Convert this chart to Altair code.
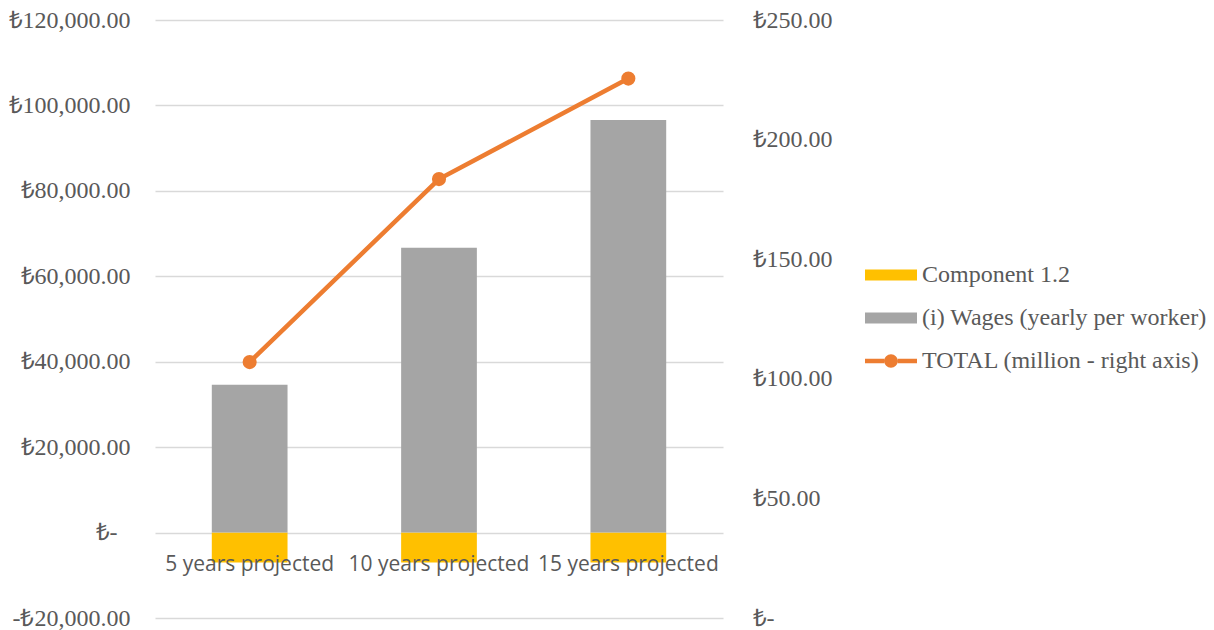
import altair as alt
import pandas as pd

categories = ["5 years projected", "10 years projected", "15 years projected"]
component = [-7000, -7000, -7000]
wages = [34600, 66700, 96600]
total = [107.0, 183.5, 225.5]

series_names = ["Component 1.2", "(i) Wages (yearly per worker)", "TOTAL (million - right axis)"]
series_colors = ["#FFC000", "#A5A5A5", "#ED7D31"]
left_ticks = [-20000, 0, 20000, 40000, 60000, 80000, 100000, 120000]
right_ticks = [0, 50, 100, 150, 200, 250]

bar_df = pd.DataFrame(
    [{"category": c, "series": series_names[0], "value": v} for c, v in zip(categories, component)]
    + [{"category": c, "series": series_names[1], "value": v} for c, v in zip(categories, wages)]
)
line_df = pd.DataFrame({"category": categories, "series": series_names[2], "value": total})
label_df = pd.DataFrame({"category": categories})

x_scale = alt.Scale(domain=categories, paddingInner=0.6, paddingOuter=0.3)
color_scale = alt.Scale(domain=series_names, range=series_colors)

# legend symbol paths (unit = sqrt(symbolSize)/2 px)
rect_path = "M-1,-1.1H9.4V1.1H-1Z"
line_path = (
    "M-1,-0.45H2.85V0.45H-1Z M5.55,-0.45H9.4V0.45H5.55Z "
    "M2.85,0A1.35,1.35 0 1,0 5.55,0A1.35,1.35 0 1,0 2.85,0Z"
)
shape_scale = alt.Scale(domain=series_names, range=[rect_path, rect_path, line_path])

legend = alt.Legend(
    title=None,
    orient="none",
    legendX=703,
    legendY=243,
    labelFont="Liberation Serif",
    labelFontSize=24,
    labelColor="#595959",
    labelLimit=400,
    symbolSize=100,
    symbolStrokeWidth=0,
    symbolOpacity=1,
    labelOffset=40,
    rowPadding=19,
)

left_expr = (
    "datum.value == 0 ? '₺-' : "
    "(datum.value < 0 ? '-₺' : '₺') + format(abs(datum.value), ',.2f')"
)
right_expr = "datum.value == 0 ? '₺-' : '₺' + format(datum.value, ',.2f')"

x_enc = alt.X("category:N", scale=x_scale, sort=categories, axis=None)

bars = alt.Chart(bar_df).mark_bar().encode(
    x=x_enc,
    y=alt.Y(
        "value:Q",
        stack="zero",
        scale=alt.Scale(domain=[-20000, 120000], nice=False, zero=False),
        axis=alt.Axis(
            values=left_ticks,
            labelExpr=left_expr,
            title=None,
            grid=True,
            gridColor="#D9D9D9",
            gridWidth=1.3,
            domain=False,
            ticks=False,
            labelFont="Liberation Serif",
            labelFontSize=24,
            labelColor="#595959",
            labelPadding={"condition": {"test": "datum.value == 0", "value": 38}, "value": 25},
        ),
    ),
    color=alt.Color("series:N", scale=color_scale, legend=legend),
    order=alt.Order("series:N"),
)

labels = alt.Chart(label_df).mark_text(
    font="Open Sans", fontSize=21, color="#595959", baseline="alphabetic", dy=38
).encode(
    x=x_enc,
    y=alt.datum(0),
    text="category:N",
)

left_layer = alt.layer(bars, labels)

right_y = alt.Y(
    "value:Q",
    scale=alt.Scale(domain=[0, 250], nice=False),
    axis=alt.Axis(
        orient="right",
        values=right_ticks,
        labelExpr=right_expr,
        title=None,
        grid=False,
        domain=False,
        ticks=False,
        labelFont="Liberation Serif",
        labelFontSize=24,
        labelColor="#595959",
        labelPadding=29,
    ),
)

legend_helper = alt.Chart(line_df).mark_point(filled=True, size=0.01).encode(
    x=x_enc,
    y=right_y,
    color=alt.Color("series:N", scale=color_scale, legend=legend),
    shape=alt.Shape("series:N", scale=shape_scale, legend=legend),
)

line = alt.Chart(line_df).mark_line(
    strokeWidth=4.5,
    point=alt.OverlayMarkDef(filled=True, size=200, color="#ED7D31"),
).encode(
    x=x_enc,
    y=right_y,
    color=alt.Color("series:N", scale=color_scale, legend=legend),
)

right_layer = alt.layer(legend_helper, line)

chart = alt.layer(left_layer, right_layer).resolve_scale(y="independent").properties(
    width=568,
    height=598,
    autosize=alt.AutoSizeParams(type="none"),
    padding={"left": 155, "top": 20, "right": 491, "bottom": 12},
    background="white",
).configure_view(stroke=None)

chart.save("out.html", embed_options={"renderer": "svg", "actions": False})
